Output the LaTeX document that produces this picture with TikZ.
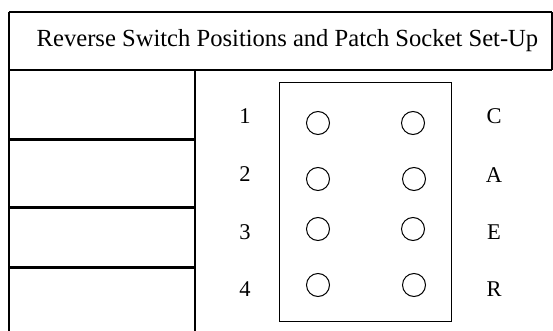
\documentclass[tikz,border=0pt]{standalone}
\usepackage{fontspec}
\setmainfont{Liberation Serif}
\usepackage{tikz}

\tikzset{
    socket/.style={draw, circle, line width=1pt, minimum size=23pt, inner sep=0pt},
    rowlabel/.style={font=\fontsize{22.5}{25}\selectfont, inner sep=0pt}
}

\begin{document}
\begin{tikzpicture}[x=1pt, y=-1pt]
        \useasboundingbox (0,0) rectangle (553,331);

        % Draw the title box
        \draw[line width=2.5pt] (9,12) -- (552,12);
        \draw[line width=2.5pt] (9,70) -- (552,70);
        \draw[line width=1.5pt] (552,12) -- (552,70);
        \draw[line width=1.5pt] (9,12) -- (9,331);
        \node[font=\fontsize{24.6}{27}\selectfont, inner sep=0pt] (title) at (287.5,41) {Reverse Switch Positions and Patch Socket Set-Up};

        % Draw the switch column
        \draw[line width=1.5pt] (195,70) -- (195,331);
        \draw[line width=3pt] (9,140) -- (195,140);
        \draw[line width=3pt] (9,207) -- (195,207);
        \draw[line width=3pt] (9,267) -- (195,267);

        % Draw the patch panel
        \draw[line width=1pt] (279,83) rectangle (451,321);

        % Numbers, sockets and letters
        \node[rowlabel] (n1) at (245,116) {1};
        \node[rowlabel] (n2) at (245,174) {2};
        \node[rowlabel] (n3) at (245,232) {3};
        \node[rowlabel] (n4) at (245,289) {4};

        \node[socket] (s1a) at (318,123) {};
        \node[socket] (s1b) at (413,123) {};
        \node[socket] (s2a) at (318,179) {};
        \node[socket] (s2b) at (414,179) {};
        \node[socket] (s3a) at (318,229) {};
        \node[socket] (s3b) at (413,229) {};
        \node[socket] (s4a) at (318,285) {};
        \node[socket] (s4b) at (414,285) {};

        \node[rowlabel] (lc) at (494,116) {C};
        \node[rowlabel] (la) at (494,175) {A};
        \node[rowlabel] (le) at (494,232) {E};
        \node[rowlabel] (lr) at (494,289) {R};
    \end{tikzpicture}
\end{document}
